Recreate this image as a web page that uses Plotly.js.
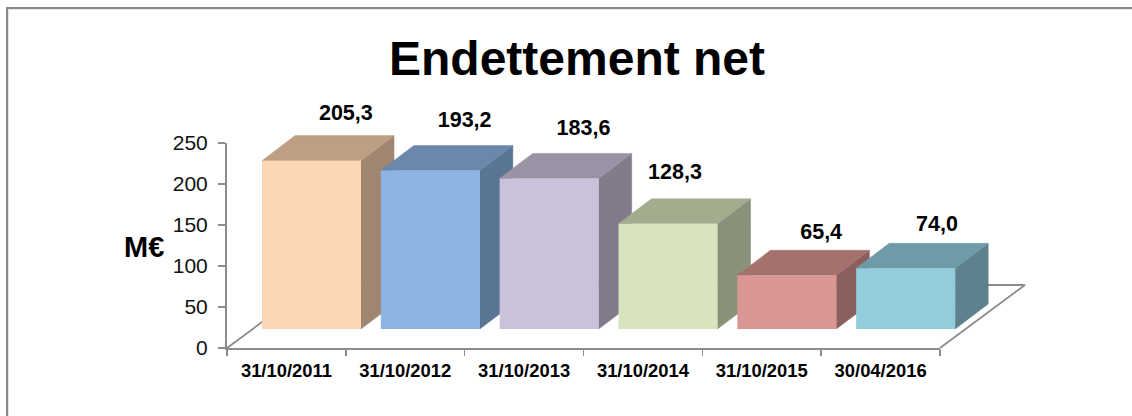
<!DOCTYPE html>
<html>
<head>
<meta charset="utf-8">
<script src="https://cdn.plot.ly/plotly-3.0.1.min.js"></script>
<style>
html,body{margin:0;padding:0;background:#fff;overflow:hidden}
#frame{position:absolute;left:6px;top:7px;right:0;bottom:0;border-left:2px solid #8a8a8a;border-top:2px solid #8a8a8a;box-shadow:inset 1px 1px 0 #e4e4e4;pointer-events:none}
#chart{position:absolute;left:0;top:0;width:1132px;height:416px}
</style>
</head>
<body>
<div id="chart"></div>
<div id="frame"></div>
<script>
const categories = ['31/10/2011','31/10/2012','31/10/2013','31/10/2014','31/10/2015','30/04/2016'];
const values = [205.3,193.2,183.6,128.3,65.4,74.0];
const frontColors = ['#FCD5B5','#8EB4E3','#CCC1DA','#D7E4BD','#D99694','#93CDDD'];
const topColors = ['#BF9F84','#6B87AB','#9C92A6','#A2AD8E','#A4716F','#6F9BA8'];
const sideColors = ['#A08570','#5A7493','#827B8C','#89917A','#8B5F5D','#5E828D'];
const yTicks = [0,50,100,150,200,250];

// Page geometry of the visible axes
const W = 1132, H = 416, AX_L = 227, AX_R = 940, AX_T = 143, AX_B = 348;
const pxPerCat = (AX_R-AX_L)/categories.length, pxPerUnit = (AX_B-AX_T)/250;

// 3D projection settings, in axis units
const BAR_W = 0.833, SHIFT = 0.211;         // bar width, shift of the front face along x
const BASE = 23.2;                          // lift of the front face above the axis floor
const DX = 0.278, DY = 30.5;                // bar depth
const FLOOR_DX = 0.715, FLOOR_DY = 76.8;    // floor depth
const LABEL_LIFT = [25.2,28.6,28.6,30.2,20.8,21.2];
const LABEL_SHIFT = [0,0,0,-0.23,0,-0.025];

const F = 'Liberation Sans, Arial, sans-serif';
const traces = [];

// floor outline
traces.push({type:'scatter',mode:'lines',xaxis:'x',yaxis:'y',hoverinfo:'skip',showlegend:false,
  x:[-0.5,-0.5+FLOOR_DX,5.5+FLOOR_DX,5.5],y:[0,FLOOR_DY,FLOOR_DY,0],line:{color:'#8c8c8c',width:1.8}});

function poly(xs,ys,color){
  traces.push({type:'scatter',mode:'lines',xaxis:'x',yaxis:'y',hoverinfo:'skip',showlegend:false,
    x:xs.concat(xs[0]),y:ys.concat(ys[0]),fill:'toself',fillcolor:color,line:{color:color,width:0.5}});
}
// side faces first, then top faces
values.forEach((v,i)=>{
  const r = i+SHIFT+BAR_W/2, t = v+BASE;
  poly([r,r+DX,r+DX,r],[BASE,BASE+DY,t+DY,t],sideColors[i]);
});
values.forEach((v,i)=>{
  const l = i+SHIFT-BAR_W/2, r = l+BAR_W, t = v+BASE;
  poly([l,r,r+DX,l+DX],[t,t,t+DY,t+DY],topColors[i]);
});
// value labels
traces.push({type:'scatter',mode:'text',xaxis:'x',yaxis:'y',hoverinfo:'skip',showlegend:false,
  x:values.map((v,i)=>i+0.5+LABEL_SHIFT[i]),
  y:values.map((v,i)=>v+BASE+DY+LABEL_LIFT[i]),
  text:values.map(v=>'<b>'+v.toFixed(1).replace('.',',')+'</b>'),
  textposition:'middle center',
  textfont:{family:F,size:21.5,color:'#000'}});
// front faces, above the side and top faces
traces.push({type:'bar',xaxis:'x3',yaxis:'y3',x:values.map((v,i)=>i+SHIFT),y:values,base:BASE,width:BAR_W,
  hoverinfo:'skip',showlegend:false,
  marker:{color:frontColors,line:{width:0}}});
// visible axes: invisible carrier trace
traces.push({type:'scatter',mode:'markers',xaxis:'x2',yaxis:'y2',x:categories,y:categories.map(()=>0),
  marker:{opacity:0},hoverinfo:'skip',showlegend:false});

const wideX = [-0.5-AX_L/pxPerCat, -0.5+(W-AX_L)/pxPerCat];
const wideY = [(AX_B-H)/pxPerUnit, AX_B/pxPerUnit];

const layout = {
  width:W,height:H,
  margin:{l:0,r:0,t:0,b:0,pad:0},
  paper_bgcolor:'#fff',plot_bgcolor:'rgba(0,0,0,0)',
  showlegend:false,barmode:'overlay',
  title:{text:'<b>Endettement net</b>',x:577/W,xanchor:'center',y:1-58/H,yanchor:'middle',
    font:{family:F,size:48,color:'#000'}},
  xaxis:{visible:false,domain:[0,1],range:wideX,fixedrange:true},
  yaxis:{visible:false,domain:[0,1],range:wideY,fixedrange:true},
  xaxis3:{visible:false,overlaying:'x',anchor:'y3',range:wideX,fixedrange:true},
  yaxis3:{visible:false,overlaying:'y',anchor:'x3',range:wideY,fixedrange:true},
  xaxis2:{domain:[AX_L/W,AX_R/W],anchor:'y2',type:'category',categoryorder:'array',categoryarray:categories,
    range:[-0.5,5.5],tickson:'boundaries',ticks:'outside',ticklen:6,tickwidth:1.5,tickcolor:'#8c8c8c',
    showline:true,linecolor:'#8c8c8c',linewidth:2,showgrid:false,zeroline:false,fixedrange:true,
    tickfont:{family:F,size:18.4,color:'#000',weight:'bold'},ticklabelstandoff:5,automargin:false},
  yaxis2:{domain:[(H-AX_B)/H,(H-AX_T)/H],anchor:'x2',side:'left',range:[0,250],tickvals:yTicks,ticktext:yTicks.map(String),
    ticks:'outside',ticklen:7,tickwidth:1.5,tickcolor:'#8c8c8c',showline:true,linecolor:'#8c8c8c',linewidth:2,
    showgrid:false,zeroline:false,fixedrange:true,tickfont:{family:F,size:21,color:'#111'},ticklabelstandoff:6,automargin:false},
  annotations:[{text:'<b>M€</b>',xref:'paper',yref:'paper',x:122/W,xanchor:'left',y:(H-247)/H,yanchor:'middle',
    showarrow:false,font:{family:F,size:29,color:'#000'}}]
};
Plotly.newPlot('chart',traces,layout,{displayModeBar:false,staticPlot:true});
</script>
</body>
</html>
